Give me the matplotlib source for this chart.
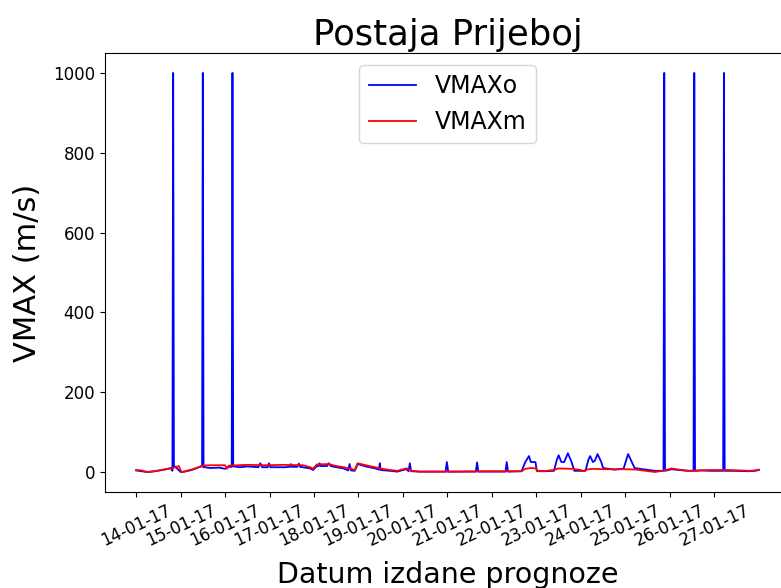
import datetime as dt
import matplotlib
matplotlib.use('Agg')
import matplotlib.pyplot as plt
import matplotlib.dates as mdates

start = dt.datetime(2017, 1, 14, 0, 0)

# VMAXo - observed (hours from start, value)
obs_h = [0, 3, 6, 10, 15, 19, 19.6, 20, 20.4, 21, 24, 26, 30, 35, 35.6, 36, 36.4, 37, 40, 45, 48, 50,
         51.6, 52, 52.4, 53, 56, 60, 66, 67, 68, 71, 71.7, 72.5, 80, 83, 83.5, 84, 87, 87.8, 88.5,
         94, 95.5, 97.5, 98.5, 99, 99.5, 103, 104, 105, 107, 112, 114.5, 115.2, 116, 118, 119.6,
         124, 129, 131, 131.5, 132, 137, 141, 144, 146, 147, 147.7, 148.4, 153, 167, 167.7, 168.4,
         183.3, 184, 184.7, 199.3, 200, 200.7, 208, 210, 212, 213, 215.5, 216.2, 220, 225.5, 227,
         228, 229.5, 231, 233, 235, 236.5, 240, 242.5, 244, 245, 246.5, 247.5, 249, 251, 252, 258,
         263, 264.5, 265.5, 267, 269, 275, 280, 284.6, 285, 285.4, 289, 293, 298, 300.8, 301.2,
         301.6, 305, 310, 316.8, 317.2, 317.6, 322, 331, 334, 336]
obs_v = [4, 2, 0, 2, 6, 10, 3, 1000, 14, 14, 0, 1, 5, 14, 14, 1000, 12, 12, 10, 11, 8, 13,
         13, 1000, 14, 14, 12, 14, 12, 22, 12, 12, 22, 12, 12, 13, 20, 13, 13, 21, 13,
         9, 5, 15, 15, 22, 15, 15, 22, 15, 13, 9, 4, 20, 4, 3, 20,
         14, 9, 6, 22, 5, 3, 1, 5, 7, 2, 22, 2, 1, 1, 25, 1,
         1, 24, 1, 1, 25, 1, 2, 25, 40, 25, 25, 3, 2, 3, 30,
         42, 25, 25, 47, 25, 3, 3, 3, 30, 40, 25, 28, 45, 25, 10, 6,
         8, 30, 45, 30, 10, 6, 3, 3, 1000, 3, 7, 5, 3, 3, 1000,
         3, 4, 3, 3, 1000, 3, 3, 2, 3, 5]

# VMAXm - model
mod_h = [0, 3, 5, 7, 10, 15, 20, 23, 24.5, 26, 28, 30, 36, 40, 48, 49, 50, 60, 70, 80, 90, 94,
         95.5, 97.5, 104, 107, 112, 116, 118, 119.5, 124, 129, 133, 137, 141, 144, 146, 149, 153,
         170, 190, 208, 210, 213, 216, 216.5, 220, 225, 228, 235, 240, 241, 243, 246, 252, 265,
         270, 280, 285, 289, 293, 298, 310, 320, 331, 334, 336]
mod_v = [5, 4, 1, 0, 2, 6, 10, 15, 0, 1, 4, 6, 16, 17, 17, 8, 16, 18, 17, 18, 17, 12,
         8, 19, 20, 16, 12, 8, 5, 22, 17, 12, 8, 5, 3, 7, 9, 3, 1,
         1, 2, 2, 8, 10, 9, 2, 2, 5, 9, 8, 5, 2, 6, 8, 7, 7,
         6, 0, 4, 9, 6, 3, 5, 5, 3, 4, 6]

obs_t = [start + dt.timedelta(hours=h) for h in obs_h]
mod_t = [start + dt.timedelta(hours=h) for h in mod_h]
tick_days = [start + dt.timedelta(days=d) for d in range(14)]

fig = plt.figure(figsize=(7.81, 5.88), dpi=100)
ax = fig.add_axes([0.1344, 0.1633, 0.877, 0.7466])

ax.plot(obs_t, obs_v, color='b', lw=1.3, label='VMAXo')
ax.plot(mod_t, mod_v, color='r', lw=1.3, label='VMAXm')

ax.set_xticks(tick_days)
ax.xaxis.set_major_formatter(mdates.DateFormatter('%d-%m-%y'))
ax.set_xlim(start - dt.timedelta(days=0.7), start + dt.timedelta(days=14.7))
ax.set_ylim(-50, 1050)
plt.xticks(rotation=25, fontsize=12)
plt.yticks([0, 200, 400, 600, 800, 1000], fontsize=12)

ax.set_title('Postaja Prijeboj', fontsize=25.5)
ax.set_xlabel('Datum izdane prognoze', fontsize=20.5, labelpad=8)
ax.set_ylabel('VMAX (m/s)', fontsize=22, labelpad=8)
ax.legend(loc='upper center', fontsize=17)

fig.savefig('out.png', dpi=100)
